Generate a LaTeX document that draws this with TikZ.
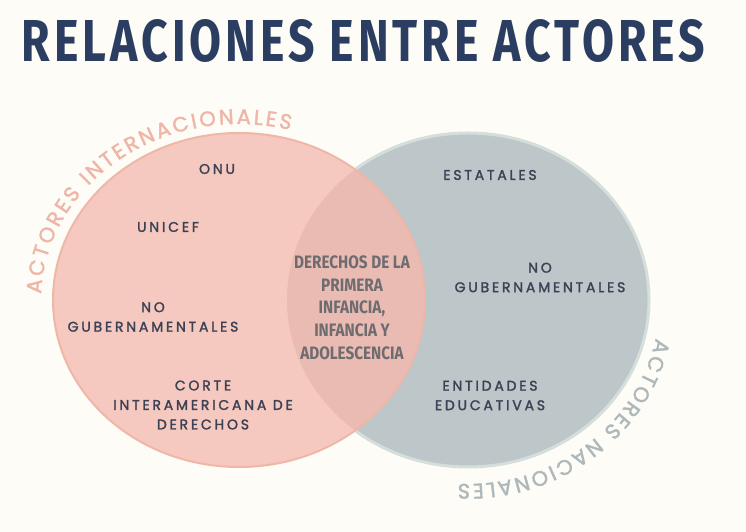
\documentclass[tikz,border=0pt]{standalone}
\usepackage{fontspec}
\setmainfont{Poppins}
\newfontfamily\labelfont[LetterSpace=20,FakeBold=1.8]{Poppins}
\newfontfamily\arcfont[FakeBold=1.8]{Poppins}
\newfontfamily\condfont[FakeStretch=0.85]{Fira Sans}
\newfontfamily\headfont[FakeStretch=0.7,LetterSpace=6]{Fira Sans}
\usepackage{xcolor}
\usetikzlibrary{calc}
\usetikzlibrary{decorations.text}

\definecolor{paper}{HTML}{FDFCF6}
\definecolor{titleblue}{HTML}{2B3E62}
\definecolor{intlfill}{HTML}{F5C9BF}
\definecolor{intlline}{HTML}{F0B6A8}
\definecolor{nacfill}{HTML}{BDC6C8}
\definecolor{nacline}{HTML}{D5DEDB}
\definecolor{overlapfill}{HTML}{E9BBB2}
\definecolor{intltext}{HTML}{EFB6A7}
\definecolor{nactext}{HTML}{AEB8BB}
\definecolor{labeltext}{HTML}{3C4255}
\definecolor{midtext}{HTML}{6E6C70}

\tikzset{
  actor/.style={inner sep=0pt, align=center, text=labeltext,
    font=\labelfont\fontsize{14}{19.5}\selectfont},
  common/.style={inner sep=0pt, align=center, text=midtext,
    font=\condfont\bfseries\fontsize{18}{22.7}\selectfont},
  arctext/.style={decorate, decoration={text along path,
    text align=fit to path, text color=#1}}
}

\begin{document}
\begin{tikzpicture}[x=1pt, y=1pt]
	% Canvas
	\useasboundingbox[fill=paper] (0,0) rectangle (746,532);
	\coordinate (intl) at (239,232);
	\coordinate (nac)  at (468,232);
	% Circles
	\fill[nacfill, draw=nacline, line width=3pt] (nac) ellipse [x radius=181, y radius=167];
	\fill[intlfill] (intl) ellipse [x radius=186, y radius=167];
	\begin{scope}
		\clip (intl) ellipse [x radius=186, y radius=167];
		\fill[overlapfill] (nac) ellipse [x radius=181, y radius=167];
	\end{scope}
	\draw[intlline, line width=2pt] (intl) ellipse [x radius=186, y radius=167];
	% Title
	\node[inner sep=0pt, text=titleblue] (title) at (363.5,491)
		{\resizebox{683pt}{42pt}{\headfont\bfseries RELACIONES ENTRE ACTORES}};
	% Arc labels
	\path[arctext=intltext, decoration={text={|\arcfont\fontsize{21}{21}\selectfont|ACTORES INTERNACIONALES}}]
		($(intl)+(178:198 and 176)$) arc [start angle=178, end angle=75, x radius=198, y radius=176];
	\path[arctext=nactext, decoration={text={|\arcfont\fontsize{21}{21}\selectfont|ACTORES NACIONALES}}]
		($(nac)+(-12:192 and 184)$) arc [start angle=-12, end angle=-93, x radius=192, y radius=184];
	% International actors
	\node[actor] (onu)    at (217,363) {ONU};
	\node[actor] (unicef) at (168,305) {UNICEF};
	\node[actor] (ongint) at (153,215) {NO\\GUBERNAMENTALES};
	\node[actor] (corte)  at (203,127) {CORTE\\INTERAMERICANA DE\\DERECHOS};
	% Shared rights
	\node[common] (derechos) at (352,224.5) {DERECHOS DE LA\\PRIMERA\\INFANCIA,\\INFANCIA Y\\ADOLESCENCIA};
	% National actors
	\node[actor] (estatales) at (490,357)   {ESTATALES};
	\node[actor] (ongnac)    at (540,254.5) {NO\\GUBERNAMENTALES};
	\node[actor] (entidades) at (490,136.5) {ENTIDADES\\EDUCATIVAS};
\end{tikzpicture}
\end{document}
